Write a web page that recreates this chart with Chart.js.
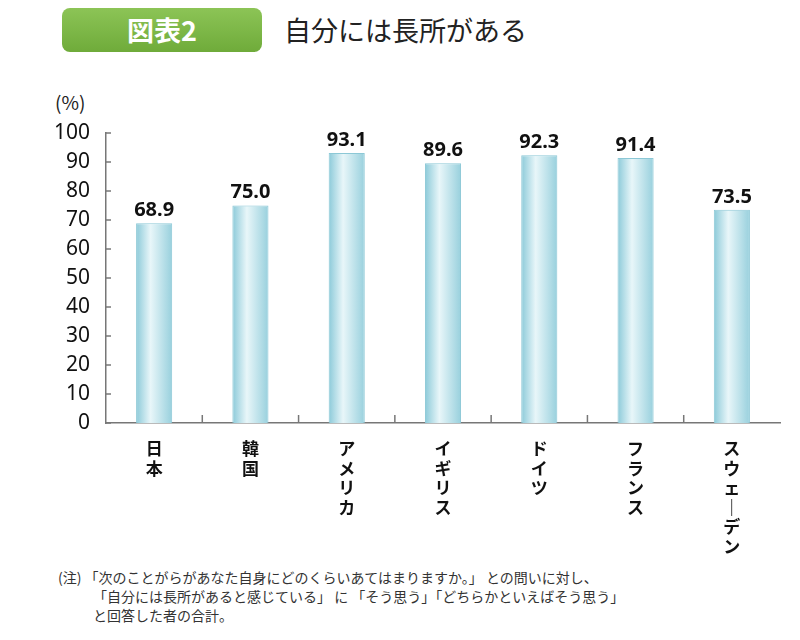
<!DOCTYPE html>
<html><head><meta charset="utf-8">
<script src="https://cdn.jsdelivr.net/npm/chart.js@4"></script>
<style>
body{margin:0;width:800px;height:640px;background:#fff;font-family:"Noto Sans CJK JP",sans-serif;position:relative;overflow:hidden}
#badge{position:absolute;left:62px;top:8px;width:200px;height:44px;background:linear-gradient(#8cc456,#6fab3a);border-radius:8px;color:#fff;font-size:27px;font-weight:bold;text-align:center;line-height:44px}
#title{position:absolute;left:284px;top:10px;font-size:27px;color:#222;line-height:40px}
#pct{position:absolute;left:55px;top:88px;font-size:19px;color:#222}
#note{position:absolute;left:58px;top:568px;font-size:14px;color:#333;line-height:19px}
canvas{position:absolute;left:0;top:80px}
</style></head><body>
<div id="badge">図表2</div>
<div id="title">自分には長所がある</div>
<div id="pct">(%)</div>
<canvas id="c" width="800" height="480"></canvas>
<div id="note">(注) 「次のことがらがあなた自身にどのくらいあてはまりますか。」 との問いに対し、<br>&emsp;&emsp;&ensp;「自分には長所があると感じている」 に 「そう思う」「どちらかといえばそう思う」<br>&emsp;&emsp;&ensp;と回答した者の合計。</div>
<script>
const categories=["日本","韓国","アメリカ","イギリス","ドイツ","フランス","スウェーデン"];
const values=[68.9,75.0,93.1,89.6,92.3,91.4,73.5];
const yTicks=[0,10,20,30,40,50,60,70,80,90,100];
const labels=categories.map(s=>s.replace(/ー/g,"｜").split(""));
const deco={id:"deco",afterDatasetsDraw(ch){
 const c=ch.ctx,x=ch.scales.x,y=ch.scales.y,m=ch.getDatasetMeta(0);
 c.save();c.strokeStyle="#777";c.lineWidth=1.5;
 yTicks.forEach(v=>{const p=y.getPixelForValue(v);c.beginPath();c.moveTo(x.left,p);c.lineTo(x.left+5,p);c.stroke();});
 for(let i=1;i<categories.length;i++){const p=(x.getPixelForValue(i-1)+x.getPixelForValue(i))/2;c.beginPath();c.moveTo(p,y.bottom);c.lineTo(p,y.bottom-8);c.stroke();}
 c.fillStyle="#111";c.font="bold 20px 'Noto Sans',sans-serif";c.textAlign="center";c.textBaseline="bottom";
 m.data.forEach((b,i)=>c.fillText(values[i].toFixed(1),b.x,b.y-3));
 c.restore();}};
new Chart(document.getElementById("c"),{type:"bar",
data:{labels:labels,datasets:[{data:values,borderColor:"#8cc8d6",borderWidth:1,
 backgroundColor:(ctx)=>{const ch=ctx.chart;if(!ch.chartArea)return"#bfe3eb";const cx=ch.scales.x.getPixelForValue(ctx.dataIndex);
 const g=ch.ctx.createLinearGradient(cx-18,0,cx+18,0);g.addColorStop(0,"#8ccad9");g.addColorStop(0.4,"#e8f6f9");g.addColorStop(1,"#98d0dd");return g;},
 barPercentage:0.375,categoryPercentage:1}]},
options:{responsive:false,animation:false,layout:{padding:{top:53,right:20,left:0,bottom:0}},
 plugins:{legend:{display:false},tooltip:{enabled:false}},
 scales:{
  x:{grid:{display:false},border:{color:"#777",width:1.5},afterFit(s){s.height=137;},
   ticks:{color:"#111",font:{size:17,weight:"bold",lineHeight:1.15,family:"'Noto Sans CJK JP'"},maxRotation:0,padding:8}},
  y:{min:0,max:100,afterFit(s){s.width=106;},grid:{display:false},border:{color:"#777",width:1.5},
   afterBuildTicks(s){s.ticks=yTicks.map(v=>({value:v}));},
   ticks:{color:"#111",font:{size:21,family:"'Noto Sans'"},padding:8}}
 }},plugins:[deco]});
</script></body></html>
